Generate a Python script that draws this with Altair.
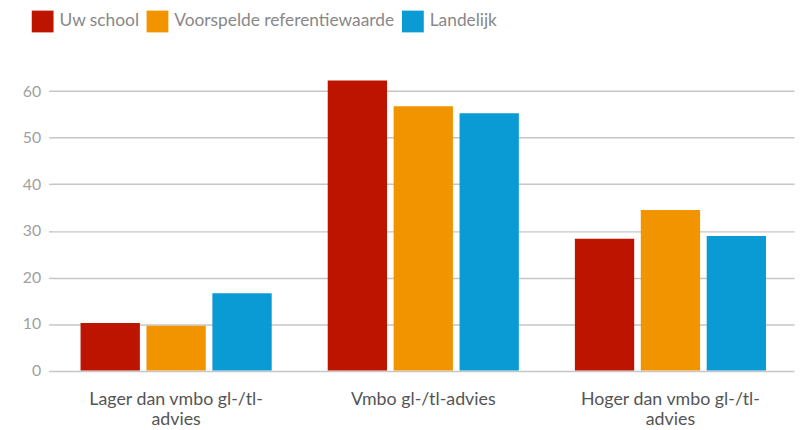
import altair as alt
import pandas as pd

categories = ["Lager dan vmbo gl-/tl-|advies", "Vmbo gl-/tl-advies", "Hoger dan vmbo gl-/tl-|advies"]
series = ["Uw school", "Voorspelde referentiewaarde", "Landelijk"]
uw_school = [10.2, 62.3, 28.3]
voorspeld = [9.6, 56.8, 34.5]
landelijk = [16.6, 55.3, 28.9]
colors = ["#bd1400", "#f19400", "#0a9bd5"]
y_ticks = [0, 10, 20, 30, 40, 50, 60]

rows = []
for s, vals in zip(series, [uw_school, voorspeld, landelijk]):
    for c, v in zip(categories, vals):
        rows.append({"categorie": c, "reeks": s, "waarde": v})
df = pd.DataFrame(rows)

FONT = "Lato"

chart = alt.Chart(df).mark_bar().encode(
    x=alt.X("categorie:N", sort=categories,
            scale=alt.Scale(paddingInner=0.2, paddingOuter=0.1),
            axis=alt.Axis(title=None, labelAngle=0, ticks=False, domain=False,
                          labelExpr="split(datum.label, '|')",
                          labelFontSize=18, labelColor="#555555", labelFont=FONT,
                          labelPadding=29, labelLineHeight=21, labelBaseline="middle",
                          labelLimit=0)),
    xOffset=alt.XOffset("reeks:N", sort=series,
                        scale=alt.Scale(paddingInner=0.1, paddingOuter=0.05)),
    y=alt.Y("waarde:Q", scale=alt.Scale(domain=[0, 65], nice=False),
            axis=alt.Axis(title=None, values=y_ticks, domain=False,
                          tickSize=4, tickColor="#c6c6c6", tickWidth=1.5,
                          gridColor="#c6c6c6", gridWidth=1.5,
                          labelFontSize=16, labelColor="#a0a0a0", labelFont=FONT,
                          labelPadding=8)),
    color=alt.Color("reeks:N", sort=series,
                    scale=alt.Scale(domain=series, range=colors),
                    legend=alt.Legend(title=None, orient="none", direction="horizontal",
                                      legendX=-21, legendY=-58,
                                      symbolType="square", symbolSize=484,
                                      symbolStrokeWidth=0, symbolOpacity=1,
                                      labelFontSize=17.5, labelColor="#888888",
                                      labelFont=FONT, labelOffset=6, labelLimit=0,
                                      columnPadding=7)),
).properties(
    width=749,
    height=305.5,
    padding={"left": 45, "top": 58.5, "right": 3, "bottom": 58},
    autosize=alt.AutoSizeParams(type="none"),
).configure_view(stroke=None)

chart.save("out.html", embed_options={"renderer": "svg", "actions": False})
